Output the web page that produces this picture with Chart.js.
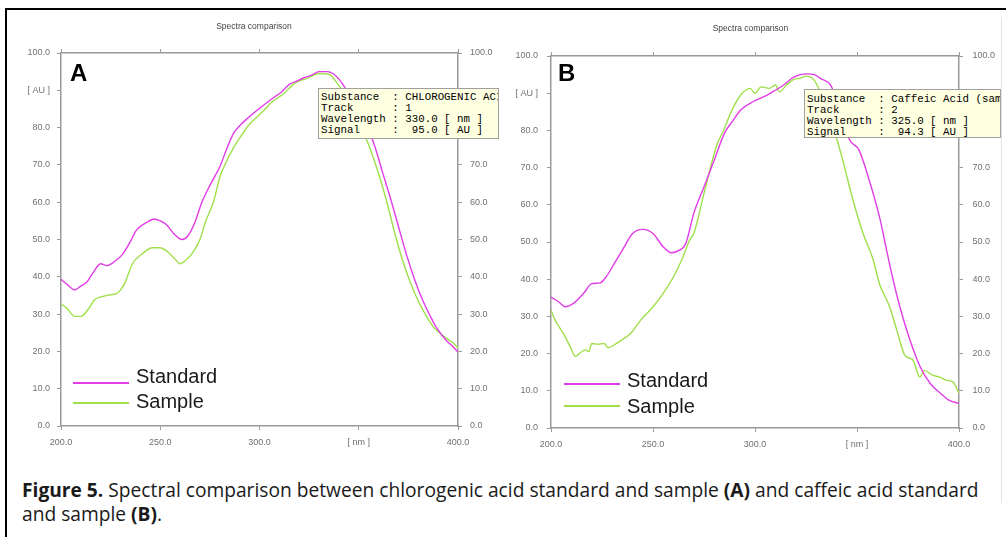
<!DOCTYPE html>
<html>
<head>
<meta charset="utf-8">
<script src="https://cdn.jsdelivr.net/npm/chart.js@4.4.1/dist/chart.umd.min.js"></script>
<style>
    body { margin: 0; background: #fff; width: 1006px; height: 537px; overflow: hidden; position: relative; }
    .frame { position: absolute; left: 5px; top: 8px; width: 1100px; height: 600px; border-left: 2px solid #000; border-top: 2px solid #000; }
    .panel { position: absolute; }
    .letter { position: absolute; font: bold 24px "Liberation Sans", Arial, sans-serif; line-height: 24px; color: #000; }
    .leg-line { position: absolute; width: 56px; height: 2px; }
    .leg-text { position: absolute; font: 20px "Liberation Sans", Arial, sans-serif; line-height: 20px; color: #1a1a1a; }
    .info { position: absolute; box-sizing: border-box; background: #ffffe1; border: 1px solid #a0a0a0;
            font: 10.8px "Liberation Mono", "DejaVu Sans Mono", monospace; line-height: 11.3px; color: #000;
            white-space: pre; overflow: hidden; padding: 3px 0 0 2px; }
    .edge { position: absolute; left: 1001px; top: 17px; width: 1px; height: 486px; background: #e4e4e4; }
    .caption { position: absolute; left: 22px; top: 478px; font: 17.2px "Open Sans", "Noto Sans", sans-serif; line-height: 23.5px; color: #1a1a1a; white-space: nowrap; }
    .caption .l1 { display: inline-block; }
</style>
</head>
<body>
<div class="frame"></div>
<div class="edge"></div>

<div class="panel" style="left:8px;top:12px;"><canvas id="chartA" width="492" height="448"></canvas></div>
<div class="panel" style="left:500px;top:14px;"><canvas id="chartB" width="501" height="448"></canvas></div>

<div class="letter" style="left:70px;top:61px;">A</div>
<div class="letter" style="left:558px;top:61px;">B</div>

<div id="legendA"></div>
<div id="legendB"></div>

<div class="info" id="infoA" style="left:318px;top:87.5px;width:181px;height:51.5px;"></div>
<div class="info" id="infoB" style="left:804px;top:89px;width:197px;height:49px;padding-top:3.5px;"></div>

<div class="caption" id="caption"><span class="l1" id="capLine1"><b>Figure 5.</b> Spectral comparison between chlorogenic acid standard and sample <b>(A)</b> and caffeic acid standard</span><br>and sample <b>(B)</b>.</div>

<script>
// Tick labels
const xTickLabels = ['200.0', '250.0', '300.0', '[ nm ]', '400.0'];
const yTickLabels = ['0.0', '10.0', '20.0', '30.0', '40.0', '50.0', '60.0', '70.0', '80.0', '[ AU ]', '100.0'];
const yRightLabels = ['0.0', '10.0', '20.0', '30.0', '40.0', '50.0', '60.0', '70.0', '80.0', '', '100.0'];
const seriesNames = ['Standard', 'Sample'];

// Panel A - chlorogenic acid
const wlStdA = [200, 203, 207, 210, 213, 216, 220, 223, 227, 231, 235, 238, 243, 247, 250, 253, 257, 261, 264, 267,
    271, 275, 280, 284, 287, 290, 294, 298, 302, 307, 311, 315, 319, 322, 326, 330, 334, 337, 340, 342,
    346, 350, 354, 357, 362, 366, 370, 374, 378, 382, 386, 389, 394, 397, 400];
const auStdA = [39.3, 38, 36.5, 37.5, 38.6, 41, 43.5, 43, 44.1, 46, 49.5, 52.5, 54.5, 55.5, 55, 54, 51.5, 50, 51, 54,
    60, 64.5, 69.5, 75, 78.5, 80.5, 82.5, 84.3, 86, 88, 89.5, 91.6, 92.5, 93.3, 94, 95, 95, 94.5, 93, 91.6,
    88, 84, 80, 76.7, 68, 61, 53.5, 46, 39.5, 34, 29.5, 26.5, 23, 21.5, 19.8];
const wlSmpA = [200, 203, 207, 210, 214, 217, 220, 225, 228, 230, 232, 236, 241, 246, 250, 253, 257, 260, 263, 266,
    270, 273, 277, 280, 283, 287, 291, 295, 299, 302, 307, 312, 317, 320, 324, 327, 330, 335, 339, 343,
    347, 351, 354, 359, 364, 368, 372, 376, 380, 384, 388, 393, 397, 400];
const auSmpA = [32.8, 31.5, 29.4, 29.4, 31.5, 33.9, 34.6, 35.2, 35.5, 36.5, 38.1, 43.5, 46.2, 47.8, 47.8, 47, 45, 43.5, 44.5, 46.2,
    50, 55, 60.4, 66.7, 70.5, 74.7, 78, 80.9, 83, 84.5, 87.2, 89, 91.6, 92.5, 93.2, 94, 94.5, 94.3, 92, 89,
    85, 80, 76.7, 69.3, 60.4, 52, 44.5, 38.5, 33.5, 29.5, 26.3, 24, 22.5, 21];

// Panel B - caffeic acid
const wlStdB = [200, 204, 207, 211, 216, 220, 224, 227, 231, 235, 240, 245, 250, 255, 259, 263, 266, 270, 275, 280,
    285, 289, 293, 299, 306, 310, 314, 319, 325, 329, 332, 337, 341, 344, 346, 351, 356, 361, 364.5, 367,
    371, 376, 381, 386, 391, 395, 400];
const auStdB = [35.2, 33.8, 32.6, 33.5, 36.2, 38.8, 39, 40.6, 44.2, 47.8, 52.3, 53.4, 52.3, 48.7, 47.1, 47.8, 49.5, 57.7, 64.8, 72,
    79.2, 82.5, 85.5, 87.7, 89.5, 90.8, 92.2, 94.3, 95.2, 95, 94, 92.2, 87, 82, 77.9, 74.7, 66.6, 56.8, 47.8, 41.5,
    32.6, 23.6, 16.4, 11.9, 9.3, 7.5, 6.6];
const wlSmpB = [200, 202, 204, 207, 209.4, 212, 215, 217, 218.5, 220, 223, 226, 228, 232, 235, 239, 244, 250, 255, 260,
    264, 268, 270, 275, 281, 285, 288, 293, 297.6, 300, 303, 307, 310, 312, 315.5, 319, 322, 325, 329, 333,
    337, 340, 343, 348, 353, 358, 361, 366, 370, 373.4, 377.5, 380.8, 383, 387, 390.6, 394, 397, 400];
const auSmpB = [31.7, 29, 27.2, 24.5, 21.8, 19.3, 20.5, 21, 20.5, 22.7, 22.5, 22.7, 21.6, 22.7, 23.8, 25.4, 29, 32.6, 36.2, 40.6,
    45.1, 50.5, 52.3, 63, 75.6, 80.5, 84.6, 89.5, 91.3, 90, 91.7, 91.3, 92.2, 90.4, 92.2, 93.7, 94, 94.6, 93.5, 89,
    83, 77.9, 72, 61.3, 52.3, 45.1, 38.8, 32.6, 25.4, 19.6, 18.2, 13.7, 15.5, 14.2, 13.7, 12.8, 12.4, 9.3];

// Info boxes
const infoA = ['Substance  : CHLOROGENIC ACID', 'Track      : 1', 'Wavelength : 330.0 [ nm ]', 'Signal     :  95.0 [ AU ]'];
const infoB = ['Substance  : Caffeic Acid (sample)', 'Track      : 2', 'Wavelength : 325.0 [ nm ]', 'Signal     :  94.3 [ AU ]'];

const colors = ['#e23ce6', '#9fe04a'];
const axisColor = '#9a9a9a';
const tickFont = { family: '"Liberation Sans", Arial, sans-serif', size: 9 };

Chart.defaults.font.family = '"Liberation Sans", Arial, sans-serif';

const pts = (xs, ys) => xs.map((x, i) => ({ x: x, y: ys[i] }));

function axis(extra) {
    return Object.assign({
        type: 'linear',
        border: { display: true, color: axisColor, width: 1.5 },
        grid: { drawOnChartArea: false, color: axisColor, tickLength: 4, lineWidth: 1 }
    }, extra);
}

function makePanel(id, std, smp, fit) {
    const xTicks = (pad, show) => ({
        stepSize: 50, padding: pad, color: '#707070', font: tickFont, maxRotation: 0, autoSkip: false,
        callback: (v, i) => show ? xTickLabels[i] : ''
    });
    const yTicks = (pad, labels) => ({
        stepSize: 10, padding: pad, color: '#707070', font: tickFont, autoSkip: false,
        callback: (v, i) => labels[i]
    });
    return new Chart(document.getElementById(id), {
        type: 'line',
        data: {
            datasets: [std, smp].map((d, i) => ({
                label: seriesNames[i],
                data: d,
                borderColor: colors[i],
                borderWidth: 1.4,
                pointRadius: 0,
                cubicInterpolationMode: 'monotone',
                xAxisID: 'x',
                yAxisID: 'y'
            }))
        },
        options: {
            responsive: false,
            animation: false,
            devicePixelRatio: 1,
            layout: { padding: 0 },
            plugins: {
                legend: { display: false },
                tooltip: { enabled: false },
                title: {
                    display: true,
                    text: 'Spectra comparison',
                    color: '#444',
                    font: { size: 8.5, weight: 'normal' },
                    padding: { top: 10, bottom: 4 }
                }
            },
            scales: {
                x: axis({ position: 'bottom', min: 200, max: 400, ticks: xTicks(7, true),
                    afterFit: s => { s.height = fit.bottom; } }),
                x2: axis({ position: 'top', min: 200, max: 400, ticks: xTicks(0, false),
                    afterFit: s => { s.height = fit.top; } }),
                y: axis({ position: 'left', min: 0, max: 100, ticks: yTicks(fit.lPad, yTickLabels),
                    afterFit: s => { s.width = fit.left; } }),
                y2: axis({ position: 'right', min: 0, max: 100, ticks: yTicks(fit.rPad, yRightLabels),
                    afterFit: s => { s.width = fit.right; } })
            }
        }
    });
}

makePanel('chartA', pts(wlStdA, auStdA), pts(wlSmpA, auSmpA),
    { left: 53, right: 42, top: 16.8, bottom: 34, lPad: 7, rPad: 8 });
makePanel('chartB', pts(wlStdB, auStdB), pts(wlSmpB, auSmpB),
    { left: 51, right: 42, top: 17.8, bottom: 34, lPad: 9, rPad: 9.5 });

// Legends drawn over each panel
function makeLegend(el, x, lineYs, textTops) {
    seriesNames.forEach((name, i) => {
        const line = document.createElement('div');
        line.className = 'leg-line';
        line.style.left = x + 'px';
        line.style.top = (lineYs[i] - 1) + 'px';
        line.style.background = colors[i];
        el.appendChild(line);
        const txt = document.createElement('div');
        txt.className = 'leg-text';
        txt.style.left = (x + 63) + 'px';
        txt.style.top = textTops[i] + 'px';
        txt.textContent = name;
        el.appendChild(txt);
    });
}
makeLegend(document.getElementById('legendA'), 73, [382.5, 403.3], [366.3, 391.3]);
makeLegend(document.getElementById('legendB'), 564, [384.3, 405.7], [369.7, 395.7]);

document.getElementById('infoA').textContent = infoA.join('\n');
document.getElementById('infoB').textContent = infoB.join('\n');

// fit caption's first line to the figure width
const cap = document.getElementById('caption');
const line1 = document.getElementById('capLine1');
const w = line1.getBoundingClientRect().width;
cap.style.fontSize = (17.2 * 956 / w).toFixed(2) + 'px';
</script>
</body>
</html>
